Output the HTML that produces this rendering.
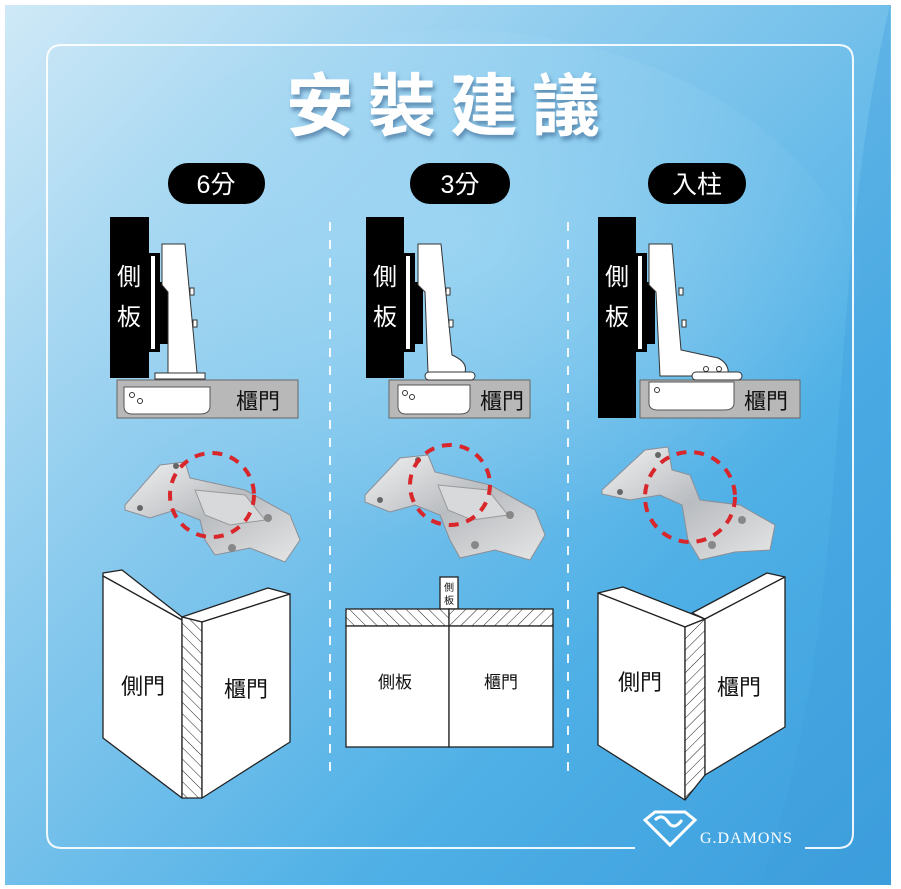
<!DOCTYPE html>
<html><head><meta charset="utf-8"><style>
html,body{margin:0;padding:0;background:#fff;}
svg{display:block;}
.cj{font-family:"Liberation Sans","Noto Sans CJK TC","Noto Sans CJK SC",sans-serif;}
</style></head><body>
<svg width="901" height="889" viewBox="0 0 901 889" xmlns="http://www.w3.org/2000/svg">
<defs>
<linearGradient id="bg" x1="0" y1="0" x2="1" y2="1">
<stop offset="0" stop-color="#cfe9f7"/>
<stop offset="0.35" stop-color="#8ccbee"/>
<stop offset="0.7" stop-color="#4fb0e6"/>
<stop offset="1" stop-color="#3b9ddc"/>
</linearGradient>
<radialGradient id="glow" cx="0.5" cy="0.35" r="0.5">
<stop offset="0" stop-color="#a9dcf5" stop-opacity="0.6"/>
<stop offset="1" stop-color="#a9dcf5" stop-opacity="0"/>
</radialGradient>
<linearGradient id="metal" x1="0" y1="0" x2="1" y2="1">
<stop offset="0" stop-color="#f2f2f2"/>
<stop offset="0.5" stop-color="#b9bcc0"/>
<stop offset="1" stop-color="#e6e6e6"/>
</linearGradient>
<pattern id="hatchL" width="8" height="8" patternUnits="userSpaceOnUse" patternTransform="rotate(45)">
<rect width="8" height="8" fill="#fff"/><line x1="0" y1="0" x2="0" y2="8" stroke="#222" stroke-width="1"/>
</pattern>
<pattern id="hatchR" width="8" height="8" patternUnits="userSpaceOnUse" patternTransform="rotate(-45)">
<rect width="8" height="8" fill="#fff"/><line x1="0" y1="0" x2="0" y2="8" stroke="#222" stroke-width="1"/>
</pattern>
<filter id="sh"><feDropShadow dx="2" dy="4" stdDeviation="2" flood-color="#1a4a7a" flood-opacity="0.5"/></filter>
</defs>
<rect x="5" y="5" width="886" height="880" fill="url(#bg)"/>
<ellipse cx="450" cy="330" rx="420" ry="300" fill="url(#glow)"/>
<path d="M890 5 L890 885 L760 885 C860 600 820 300 890 5Z" fill="#3f9fdc" opacity="0.35"/>
<!-- border -->
<path d="M635 848 L62 848 Q47 848 47 833 L47 60 Q47 45 62 45 L838 45 Q853 45 853 60 L853 833 Q853 848 838 848 L805 848" fill="none" stroke="#fff" stroke-width="2" opacity="0.9"/>
<!-- title -->
<text x="450" y="130" text-anchor="middle" class="cj" font-size="68" font-weight="bold" fill="#fff" letter-spacing="14" filter="url(#sh)">安裝建議</text>
<!-- pills -->
<rect x="168" y="163" width="97" height="41" rx="20" fill="#000"/>
<text x="216" y="193" text-anchor="middle" class="cj" font-size="25" fill="#fff">6分</text>
<rect x="410" y="163" width="100" height="41" rx="20" fill="#000"/>
<text x="460" y="193" text-anchor="middle" class="cj" font-size="25" fill="#fff">3分</text>
<rect x="648" y="163" width="98" height="41" rx="20" fill="#000"/>
<text x="697" y="193" text-anchor="middle" class="cj" font-size="25" fill="#fff">入柱</text>
<!-- dashed dividers -->
<line x1="330" y1="222" x2="330" y2="780" stroke="#fff" stroke-width="2" stroke-dasharray="9,9" opacity="0.9"/>
<line x1="568" y1="222" x2="568" y2="780" stroke="#fff" stroke-width="2" stroke-dasharray="9,9" opacity="0.9"/>

<!-- Diagram 1 -->
<g>
<rect x="117" y="380" width="181" height="38" fill="#b8b8b8" stroke="#666"/>
<path d="M124 387 L210 387 L210 406 Q210 414 200 414 L132 414 Q124 414 124 406Z" fill="#fff" stroke="#555"/>
<circle cx="132" cy="395" r="2.5" fill="none" stroke="#333"/><circle cx="140" cy="401" r="2.5" fill="none" stroke="#333"/>
<text x="258" y="409" text-anchor="middle" class="cj" font-size="22" fill="#111">櫃門</text>
<rect x="110" y="217" width="39" height="161" fill="#000"/>
<text x="129" y="285" text-anchor="middle" class="cj" font-size="24" fill="#fff">側</text>
<text x="129" y="325" text-anchor="middle" class="cj" font-size="24" fill="#fff">板</text>
<rect x="149" y="253" width="11" height="99" fill="#000"/>
<rect x="151" y="256" width="4" height="93" fill="#fff"/>
<rect x="160" y="282" width="8" height="62" fill="#000"/>
<path d="M162 244 L185 244 L197 373 L168 373 L168 292 L162 285Z" fill="#fff" stroke="#333"/>
<rect x="155" y="373" width="50" height="6" fill="#fff" stroke="#333"/>
<rect x="190" y="288" width="4" height="7" fill="#fff" stroke="#333"/>
<rect x="193" y="320" width="4" height="7" fill="#fff" stroke="#333"/>
</g>

<!-- Diagram 2 -->
<g>
<rect x="389" y="380" width="141" height="38" fill="#b8b8b8" stroke="#666"/>
<path d="M398 385 L470 385 L470 406 Q470 414 460 414 L406 414 Q398 414 398 406Z" fill="#fff" stroke="#555"/>
<circle cx="405" cy="393" r="2.5" fill="none" stroke="#333"/><circle cx="412" cy="397" r="2.5" fill="none" stroke="#333"/>
<text x="502" y="409" text-anchor="middle" class="cj" font-size="22" fill="#111">櫃門</text>
<rect x="366" y="217" width="38" height="161" fill="#000"/>
<text x="385" y="285" text-anchor="middle" class="cj" font-size="24" fill="#fff">側</text>
<text x="385" y="325" text-anchor="middle" class="cj" font-size="24" fill="#fff">板</text>
<rect x="404" y="253" width="11" height="99" fill="#000"/>
<rect x="406" y="256" width="4" height="93" fill="#fff"/>
<rect x="415" y="282" width="8" height="62" fill="#000"/>
<path d="M418 244 L441 244 L452 355 Q468 362 465 372 L428 372 L425 292 L418 285Z" fill="#fff" stroke="#333"/>
<rect x="425" y="372" width="50" height="8" rx="4" fill="#fff" stroke="#333"/>
<rect x="446" y="288" width="4" height="7" fill="#fff" stroke="#333"/>
<rect x="449" y="320" width="4" height="7" fill="#fff" stroke="#333"/>
</g>

<!-- Diagram 3 -->
<g>
<rect x="640" y="380" width="160" height="38" fill="#b8b8b8" stroke="#666"/>
<path d="M649 382 L734 382 L734 403 Q734 410 724 410 L658 410 Q649 410 649 403Z" fill="#fff" stroke="#555"/>
<circle cx="657" cy="390" r="2.5" fill="none" stroke="#333"/>
<text x="766" y="409" text-anchor="middle" class="cj" font-size="22" fill="#111">櫃門</text>
<rect x="598" y="217" width="38" height="201" fill="#000"/>
<text x="617" y="285" text-anchor="middle" class="cj" font-size="24" fill="#fff">側</text>
<text x="617" y="325" text-anchor="middle" class="cj" font-size="24" fill="#fff">板</text>
<rect x="636" y="253" width="11" height="99" fill="#000"/>
<rect x="638" y="256" width="4" height="93" fill="#fff"/>
<rect x="647" y="282" width="8" height="62" fill="#000"/>
<path d="M649 244 L672 244 L681 350 L718 358 Q730 364 728 376 L660 376 L656 292 L649 285Z" fill="#fff" stroke="#333"/>
<rect x="692" y="372" width="50" height="8" rx="4" fill="#fff" stroke="#333"/>
<circle cx="706" cy="369" r="2.5" fill="none" stroke="#333"/><circle cx="719" cy="369" r="2.5" fill="none" stroke="#333"/>
<rect x="679" y="288" width="4" height="7" fill="#fff" stroke="#333"/>
<rect x="682" y="320" width="4" height="7" fill="#fff" stroke="#333"/>
</g>

<!-- Hinges -->
<g>
<path d="M125 505 L160 465 L185 462 L190 478 L245 490 L290 515 L300 540 L285 562 L250 548 L215 555 L205 540 L200 520 L175 510 L150 518 L125 510Z" fill="url(#metal)" stroke="#8a8f96"/>
<path d="M195 490 L245 495 L265 520 L230 525 L205 515Z" fill="#d8d9db" stroke="#999"/>
<circle cx="140" cy="508" r="3" fill="#666"/><circle cx="176" cy="466" r="3" fill="#666"/><circle cx="232" cy="548" r="4" fill="#888"/><circle cx="268" cy="518" r="4" fill="#888"/>
<circle cx="212" cy="495" r="42" fill="none" stroke="#d8262a" stroke-width="4" stroke-dasharray="10,8"/>
</g>
<g>
<path d="M365 495 L400 458 L428 455 L435 472 L490 485 L535 510 L545 535 L530 560 L495 550 L460 558 L450 540 L440 515 L415 505 L390 512 L365 502Z" fill="url(#metal)" stroke="#8a8f96"/>
<path d="M438 485 L488 490 L508 515 L472 520 L448 510Z" fill="#d8d9db" stroke="#999"/>
<circle cx="380" cy="500" r="3" fill="#666"/><circle cx="418" cy="460" r="3" fill="#666"/><circle cx="475" cy="545" r="4" fill="#888"/><circle cx="510" cy="515" r="4" fill="#888"/>
<circle cx="450" cy="485" r="40" fill="none" stroke="#d8262a" stroke-width="4" stroke-dasharray="10,8"/>
</g>
<g>
<path d="M602 490 L645 450 L668 447 L672 470 L690 475 L700 500 L740 505 L775 525 L770 550 L735 552 L700 560 L688 540 L682 505 L660 495 L630 500 L602 494Z" fill="url(#metal)" stroke="#8a8f96"/>
<circle cx="620" cy="492" r="3" fill="#666"/><circle cx="658" cy="455" r="3" fill="#666"/><circle cx="712" cy="545" r="4" fill="#888"/><circle cx="742" cy="520" r="4" fill="#888"/>
<circle cx="690" cy="497" r="45" fill="none" stroke="#d8262a" stroke-width="4" stroke-dasharray="10,8"/>
</g>

<!-- Bottom diagram 1 -->
<g stroke="#222" stroke-width="1.3" stroke-linejoin="round">
<polygon points="103,573 122,570 182,617 182,620 103,576" fill="#fff"/>
<polygon points="103,576 182,620 182,798 103,738" fill="#fff"/>
<polygon points="182,617 268,588 290,594 202,622" fill="#fff"/>
<polygon points="182,617 202,622 202,798 182,798" fill="url(#hatchR)"/>
<polygon points="202,622 290,594 290,742 202,798" fill="#fff"/>
</g>
<text x="143" y="694" text-anchor="middle" class="cj" font-size="22" fill="#111">側門</text>
<text x="246" y="697" text-anchor="middle" class="cj" font-size="22" fill="#111">櫃門</text>

<!-- Bottom diagram 2 -->
<g stroke="#222" stroke-width="1.3">
<rect x="440" y="577" width="18" height="32" fill="#fff"/>
<rect x="346" y="609" width="103" height="17" fill="url(#hatchR)"/>
<rect x="449" y="609" width="104" height="17" fill="url(#hatchL)"/>
<rect x="346" y="626" width="103" height="121" fill="#fff"/>
<rect x="449" y="626" width="104" height="121" fill="#fff"/>
</g>
<text x="449" y="591" text-anchor="middle" class="cj" font-size="10" fill="#111">側</text>
<text x="449" y="604" text-anchor="middle" class="cj" font-size="10" fill="#111">板</text>
<text x="395" y="688" text-anchor="middle" class="cj" font-size="17" fill="#111">側板</text>
<text x="501" y="688" text-anchor="middle" class="cj" font-size="17" fill="#111">櫃門</text>

<!-- Bottom diagram 3 -->
<g stroke="#222" stroke-width="1.3" stroke-linejoin="round">
<polygon points="598,593 623,587 705,619 685,627" fill="#fff"/>
<polygon points="598,593 685,627 685,800 598,745" fill="#fff"/>
<polygon points="692,613 767,573 785,577 705,619" fill="#fff"/>
<polygon points="685,627 705,619 705,775 685,800" fill="url(#hatchL)"/>
<polygon points="705,619 785,577 785,727 705,775" fill="#fff"/>
</g>
<text x="640" y="690" text-anchor="middle" class="cj" font-size="22" fill="#111">側門</text>
<text x="739" y="695" text-anchor="middle" class="cj" font-size="22" fill="#111">櫃門</text>

<!-- logo -->
<g fill="none" stroke="#fff" stroke-width="3">
<path d="M645 820 L655 812 L685 812 L695 820 L670 845 Z"/>
<path d="M655 820 Q662 813 668 822 Q674 831 682 820"/>
</g>
<text x="700" y="843" font-family="Liberation Serif, serif" font-size="16" fill="#fff" letter-spacing="1">G.DAMONS</text>
</svg>
</body></html>
